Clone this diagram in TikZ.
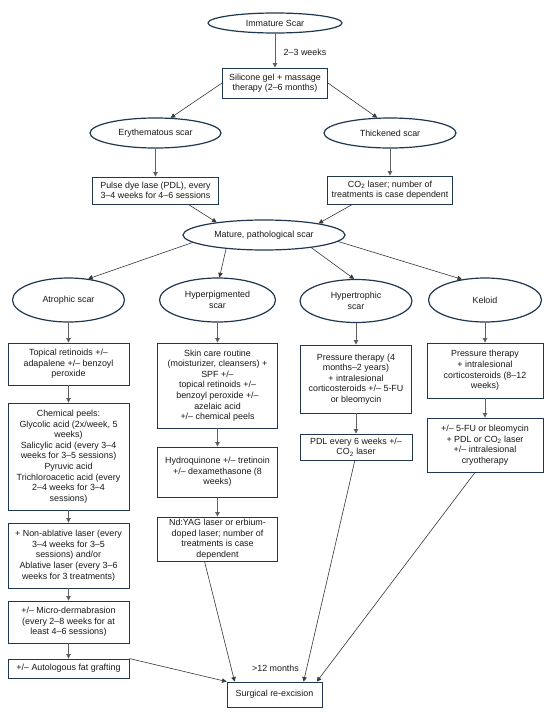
\documentclass[tikz,border=0pt]{standalone}
\usepackage{fontspec}
\setmainfont{Liberation Sans}
\usetikzlibrary{shapes.geometric,arrows.meta,calc}
\definecolor{outl}{RGB}{31,56,80}
\definecolor{txt}{RGB}{25,25,25}
\definecolor{varr}{RGB}{95,95,95}
\definecolor{darr}{RGB}{55,55,55}
\begin{document}
\begin{tikzpicture}[x=1pt,y=-1pt,
  every node/.style={font={\fontsize{8.9}{10.6}\selectfont},text=txt,align=center,inner sep=0pt},
  oval/.style={ellipse,draw=outl,line width=1.2pt,fill=white},
  tbox/.style={rectangle,draw=outl,line width=0.9pt,fill=white},
  varrow/.style={draw=varr,line width=0.9pt,-{Triangle[length=4.5pt,width=4.5pt]}},
  darrow/.style={draw=darr,line width=0.6pt,-{Triangle[length=4.5pt,width=4.5pt]}},
  lbl/.style={font={\fontsize{8.9}{10.6}\selectfont}}]
\path[use as bounding box,fill=white] (0,0) rectangle (550,715);

% top part
\node[oval,minimum width=134pt,minimum height=20pt] (imm) at (275,23) {Immature Scar};
\node[tbox,minimum width=105pt,minimum height=30pt] (sil) at (275,83) {Silicone gel + massage\\therapy (2–6 months)};
\node[lbl] (w23) at (305,52) {2–3 weeks};
\node[oval,minimum width=131pt,minimum height=30pt] (ery) at (155.5,133) {Erythematous scar};
\node[oval,minimum width=132pt,minimum height=30pt] (thick) at (390,133) {Thickened scar};
\node[tbox,minimum width=126pt,minimum height=27pt] (pdl) at (155.5,190.5) {Pulse dye lase (PDL), every\\3–4 weeks for 4–6 sessions};
\node[tbox,minimum width=125pt,minimum height=28pt] (co2) at (390,190) {CO\textsubscript{2} laser; number of\\treatments is case dependent};
\node[oval,minimum width=162pt,minimum height=30pt] (mature) at (264,235) {Mature, pathological scar};

% scar types
\node[oval,minimum width=112pt,minimum height=44pt] (atro) at (68.5,300) {Atrophic scar};
\node[oval,minimum width=116pt,minimum height=44pt] (hyp) at (217.5,300) {Hyperpigmented\\scar};
\node[oval,minimum width=112pt,minimum height=43pt] (hyt) at (356,301) {Hypertrophic\\scar};
\node[oval,minimum width=113pt,minimum height=44pt] (kel) at (485,300) {Keloid};

% atrophic column
\node[tbox,minimum width=121pt,minimum height=42pt] (a1) at (68.5,364) {Topical retinoids +/–\\adapalene +/– benzoyl\\peroxide};
\node[tbox,minimum width=121pt,minimum height=107pt] (a2) at (68.5,456.5) {Chemical peels:\\Glycolic acid (2x/week, 5\\weeks)\\Salicylic acid (every 3–4\\weeks for 3–5 sessions)\\Pyruvic acid\\Trichloroacetic acid (every\\2–4 weeks for 3–4\\sessions)};
\node[tbox,minimum width=121pt,minimum height=65pt] (a3) at (68.5,555.5) {+ Non-ablative laser (every\\3–4 weeks for 3–5\\sessions) and/or\\Ablative laser (every 3–6\\weeks for 3 treatments)};
\node[tbox,minimum width=121pt,minimum height=42pt] (a4) at (68.5,622) {+/– Micro-dermabrasion\\(every 2–8 weeks for at\\least 4–6 sessions)};
\node[tbox,minimum width=121pt,minimum height=19pt] (a5) at (68.5,668.5) {+/– Autologous fat grafting};

% hyperpigmented column
\node[tbox,minimum width=120pt,minimum height=85pt] (h1) at (217.5,385.5) {Skin care routine\\(moisturizer, cleansers) +\\SPF +/–\\topical retinoids +/–\\benzoyl peroxide +/–\\azelaic acid\\+/– chemical peels};
\node[tbox,minimum width=120pt,minimum height=50pt] (h2) at (217.5,472) {Hydroquinone +/– tretinoin\\+/– dexamethasone (8\\weeks)};
\node[tbox,minimum width=120pt,minimum height=44pt] (h3) at (217.5,539) {Nd:YAG laser or erbium-\\doped laser; number of\\treatments is case\\dependent};

% hypertrophic column
\node[tbox,minimum width=111pt,minimum height=68pt] (t1) at (356,379) {Pressure therapy (4\\months–2 years)\\+ intralesional\\corticosteroids +/– 5-FU\\or bleomycin};
\node[tbox,minimum width=112pt,minimum height=26pt] (t2) at (356,447) {PDL every 6 weeks +/–\\CO\textsubscript{2} laser};

% keloid column
\node[tbox,minimum width=116pt,minimum height=55pt] (k1) at (485,370.5) {Pressure therapy\\+ intralesional\\corticosteroids (8–12\\weeks)};
\node[tbox,minimum width=116pt,minimum height=54pt] (k2) at (485,445) {+/– 5-FU or bleomycin\\+ PDL or CO\textsubscript{2} laser\\+/– intralesional\\cryotherapy};

% bottom
\node[tbox,minimum width=95pt,minimum height=25pt] (surg) at (274.5,694.5) {Surgical re-excision};
\node[lbl] (m12) at (275.5,668) {>12 months};

% connectors
\draw[varrow] (imm) -- (sil);
\draw[darrow] (sil.west) -- (ery.45);
\draw[darrow] (sil.east) -- (thick.130);
\draw[varrow] (ery) -- (pdl);
\draw[varrow] (thick) -- (co2);
\draw[darrow] (pdl.-23) -- (mature.165);
\draw[darrow] (co2.201) -- (mature.12);
\draw[darrow] (mature.186) -- (atro.47);
\draw[darrow] (mature.-160) -- (hyp.85);
\draw[darrow] (mature.-15) -- (hyt.95);
\draw[darrow] (mature.-5) -- (kel.138);

\draw[varrow] (atro) -- (a1);
\draw[varrow] (a1) -- (a2);
\draw[varrow] (a2) -- (a3);
\draw[varrow] (a3) -- (a4);
\draw[varrow] (a4) -- (a5);

\draw[varrow] (hyp) -- (h1);
\draw[varrow] (h1) -- (h2);
\draw[varrow] (h2) -- (h3);

\draw[varrow] (hyt) -- (t1);
\draw[varrow] (t1) -- (t2);

\draw[varrow] (kel) -- (k1);
\draw[varrow] (k1) -- (k2);

\draw[darrow] (a5.north east) -- (surg.north west);
\draw[darrow] (h3.-120) -- (surg.162);
\draw[darrow] (t2.-95) -- (surg.24);
\draw[darrow] (k2.-110) -- (surg.17);
\end{tikzpicture}
\end{document}
